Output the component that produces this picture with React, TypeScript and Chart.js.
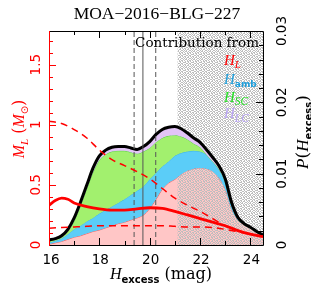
import React, { useEffect, useRef } from "react";
import { Chart, registerables } from "chart.js";

Chart.register(...registerables);

// ---------------- data ----------------
const TITLE = "MOA\u22122016\u2212BLG\u2212227";
const X_MIN = 16;
const X_MAX = 24.5;
const ML_MAX = 1.78;
const P_MAX = 0.03;

const H_GRID = [
  16, 16.25, 16.5, 16.75, 17, 17.25, 17.5, 17.75, 18, 18.25, 18.5, 18.75, 19, 19.25, 19.5, 19.75,
  20, 20.25, 20.5, 20.75, 21, 21.25, 21.5, 21.75, 22, 22.25, 22.5, 22.75, 23, 23.25, 23.5, 23.75,
  24, 24.25, 24.5,
];
// cumulative tops of the stacked probability areas
const P_LENS_TOP = [
  0.0001, 0.0003, 0.0005, 0.0008, 0.0011, 0.0013, 0.0016, 0.0019, 0.0021, 0.0024, 0.0027, 0.003,
  0.0032, 0.0035, 0.0038, 0.0042, 0.0051, 0.0064, 0.0078, 0.0087, 0.0092, 0.0099, 0.0104, 0.0107,
  0.0108, 0.0107, 0.0103, 0.0094, 0.0078, 0.005, 0.0035, 0.0029, 0.0024, 0.0018, 0.0014,
];
const P_AMB_TOP = [
  0.0003, 0.0006, 0.0009, 0.0015, 0.0022, 0.0027, 0.0033, 0.0038, 0.0044, 0.0049, 0.0054, 0.0059,
  0.0064, 0.007, 0.0076, 0.0082, 0.0092, 0.0101, 0.011, 0.0117, 0.0125, 0.0129, 0.0131, 0.0132,
  0.0131, 0.0127, 0.012, 0.011, 0.0087, 0.0055, 0.0036, 0.0029, 0.0024, 0.0018, 0.0014,
];
const P_SC_TOP = [
  0.0005, 0.0008, 0.0011, 0.0019, 0.0034, 0.0055, 0.0079, 0.0102, 0.0119, 0.0127, 0.0131, 0.0132,
  0.0132, 0.013, 0.0128, 0.0131, 0.0136, 0.0144, 0.015, 0.0153, 0.0154, 0.0152, 0.0148, 0.0142,
  0.0137, 0.0127, 0.0117, 0.0106, 0.0089, 0.0057, 0.0037, 0.0029, 0.0024, 0.0018, 0.0014,
];
const P_TOTAL = [
  0.0007, 0.0009, 0.0013, 0.0022, 0.0038, 0.006, 0.0084, 0.0108, 0.0125, 0.0133, 0.0137, 0.0138,
  0.0138, 0.0136, 0.0134, 0.0138, 0.0145, 0.0155, 0.0162, 0.0165, 0.0166, 0.0163, 0.0157, 0.015,
  0.0144, 0.0134, 0.0123, 0.0111, 0.0093, 0.006, 0.0039, 0.003, 0.0025, 0.0019, 0.0014,
];

// lens mass (left axis)
const ML_DASH_X = [16, 16.5, 17, 17.5, 18, 18.5, 19, 19.5, 20, 20.5, 21, 21.5, 22, 22.5, 23, 23.5, 24, 24.5];
const ML_DASH_HI = [1.03, 1.01, 0.96, 0.89, 0.79, 0.71, 0.66, 0.61, 0.55, 0.47, 0.39, 0.33, 0.28, 0.22, 0.16, 0.12, 0.09, 0.07];
const ML_DASH_LO = [0.14, 0.145, 0.15, 0.155, 0.16, 0.16, 0.16, 0.16, 0.16, 0.16, 0.155, 0.15, 0.15, 0.145, 0.13, 0.11, 0.09, 0.07];
const ML_SOLID_X = [16, 16.25, 16.5, 16.75, 17, 17.5, 18, 18.5, 19, 19.5, 20, 20.5, 21, 21.5, 22, 22.5, 23, 23.5, 24, 24.5];
const ML_SOLID = [0.33, 0.37, 0.39, 0.38, 0.35, 0.32, 0.3, 0.29, 0.29, 0.3, 0.31, 0.305, 0.28, 0.25, 0.22, 0.19, 0.16, 0.12, 0.09, 0.07];

const EXCLUDED_RANGE = [21.1, 24.5];
const DASHED_LIMITS = [19.38, 20.24];
const SOLID_LIMITS = [19.73];

const X_TICK_VALUES = [16, 18, 20, 22, 24];
const X_TICK_LABELS = ["16", "18", "20", "22", "24"];
const ML_TICK_VALUES = [0, 0.5, 1, 1.5];
const ML_TICK_LABELS = ["0", "0.5", "1", "1.5"];
const P_TICK_VALUES = [0, 0.01, 0.02, 0.03];
const P_TICK_LABELS = ["0", "0.01", "0.02", "0.03"];

// ---------------- styles ----------------
const RED = "#ff0000";
const PINK = "#ffc6c6";
const BLUE = "#5bcdf8";
const GREEN = "#a2f06e";
const LAVENDER = "#e2c4f6";
const SERIF = "'Liberation Serif', serif";
const WSERIF = "'DejaVu Serif', serif";
const SANS = "'DejaVu Sans', sans-serif";

type Seg = { t: string; font: string; dy?: number; dx?: number; color?: string };

function richWidth(ctx: CanvasRenderingContext2D, segs: Seg[]) {
  let w = 0;
  for (const s of segs) {
    ctx.font = s.font;
    w += ctx.measureText(s.t).width + (s.dx || 0);
  }
  return w;
}
function drawRich(ctx: CanvasRenderingContext2D, segs: Seg[], x: number, y: number, color: string) {
  let cx = x;
  for (const s of segs) {
    ctx.font = s.font;
    ctx.fillStyle = s.color || color;
    cx += s.dx || 0;
    ctx.fillText(s.t, cx, y + (s.dy || 0));
    cx += ctx.measureText(s.t).width;
  }
}
function drawRotRich(ctx: CanvasRenderingContext2D, segs: Seg[], bx: number, cy: number, color: string) {
  const w = richWidth(ctx, segs);
  ctx.save();
  ctx.translate(bx, cy);
  ctx.rotate(-Math.PI / 2);
  drawRich(ctx, segs, -w / 2, 0, color);
  ctx.restore();
}

// fine squiggly gray texture for the excluded region
const HATCH_ROWS = [
  "XX..X.X.",
  ".X.XX..X",
  "X.X..XX.",
  ".XX.X..X",
  "X..X.XX.",
  ".X.XX.X.",
  "XX..X..X",
  "..XX.XX.",
];
function makeHatch(): CanvasPattern | string {
  const c = document.createElement("canvas");
  c.width = 8;
  c.height = 8;
  const g = c.getContext("2d");
  if (!g) return "#dcdcdc";
  g.fillStyle = "#bebebe";
  HATCH_ROWS.forEach((row, y) => {
    for (let x = 0; x < row.length; x++) if (row[x] === "X") g.fillRect(x, y, 1, 1);
  });
  const ctx = document.createElement("canvas").getContext("2d");
  const p = ctx ? ctx.createPattern(c, "repeat") : null;
  return p || "#dcdcdc";
}

const decor = {
  id: "decor",
  afterDraw(chart: any) {
    const ctx: CanvasRenderingContext2D = chart.ctx;
    const { left, right, top, bottom } = chart.chartArea;
    const xs = chart.scales.x;
    const ym = chart.scales.yM;
    const yp = chart.scales.yP;
    ctx.save();
    ctx.lineWidth = 1;
    // x ticks (inward, top and bottom)
    ctx.strokeStyle = "#000";
    for (let v = 16; v <= 24; v++) {
      const px = Math.round(xs.getPixelForValue(v)) + 0.5;
      const len = v % 2 === 0 ? 7 : 4;
      ctx.beginPath();
      ctx.moveTo(px, bottom);
      ctx.lineTo(px, bottom - len);
      ctx.moveTo(px, top);
      ctx.lineTo(px, top + len);
      ctx.stroke();
    }
    // right ticks
    for (let i = 0; i <= 15; i++) {
      const py = Math.round(yp.getPixelForValue(i * 0.002)) + 0.5;
      const len = i % 5 === 0 ? 7 : 4;
      ctx.beginPath();
      ctx.moveTo(right, py);
      ctx.lineTo(right - len, py);
      ctx.stroke();
    }
    // left ticks (red)
    ctx.strokeStyle = RED;
    for (let i = 0; i <= 17; i++) {
      const py = Math.round(ym.getPixelForValue(i / 10)) + 0.5;
      const len = i % 5 === 0 ? 7 : 4;
      ctx.beginPath();
      ctx.moveTo(left, py);
      ctx.lineTo(left + len, py);
      ctx.stroke();
    }
    // frame
    ctx.strokeStyle = "#000";
    ctx.beginPath();
    ctx.moveTo(left, top + 0.5);
    ctx.lineTo(right + 0.5, top + 0.5);
    ctx.lineTo(right + 0.5, bottom + 0.5);
    ctx.lineTo(left, bottom + 0.5);
    ctx.stroke();
    ctx.strokeStyle = RED;
    ctx.beginPath();
    ctx.moveTo(left + 0.5, top);
    ctx.lineTo(left + 0.5, bottom + 1);
    ctx.stroke();

    ctx.textBaseline = "alphabetic";
    ctx.textAlign = "left";
    // title
    ctx.fillStyle = "#000";
    ctx.font = `17.5px ${SERIF}`;
    const tw = ctx.measureText(TITLE).width;
    ctx.fillText(TITLE, 157 - tw / 2, 18.5);

    // x tick labels
    ctx.font = `13.5px ${SANS}`;
    ctx.textAlign = "center";
    X_TICK_VALUES.forEach((v, i) => {
      ctx.fillText(X_TICK_LABELS[i], xs.getPixelForValue(v) + (i === 0 ? 2 : 1), 263.5);
    });
    // rotated y tick labels
    ctx.textBaseline = "middle";
    ML_TICK_VALUES.forEach((v, i) => {
      ctx.save();
      ctx.translate(36, ym.getPixelForValue(v));
      ctx.rotate(-Math.PI / 2);
      ctx.fillStyle = RED;
      ctx.fillText(ML_TICK_LABELS[i], 0, 0);
      ctx.restore();
    });
    P_TICK_VALUES.forEach((v, i) => {
      ctx.save();
      ctx.translate(282, yp.getPixelForValue(v));
      ctx.rotate(-Math.PI / 2);
      ctx.fillStyle = "#000";
      ctx.fillText(P_TICK_LABELS[i], 0, 0);
      ctx.restore();
    });
    ctx.textBaseline = "alphabetic";
    ctx.textAlign = "left";

    // x title
    drawRich(
      ctx,
      [
        { t: "H", font: `italic 16px ${SERIF}` },
        { t: "excess", font: `bold 10px ${SANS}`, dy: 4 },
        { t: " (mag)", font: `16px ${WSERIF}` },
      ],
      110,
      279,
      "#000"
    );
    // left title
    drawRotRich(
      ctx,
      [
        { t: "M", font: `italic 16px ${SERIF}` },
        { t: "L", font: `italic 11px ${SERIF}`, dy: 3.5 },
        { t: " (", font: `16px ${WSERIF}` },
        { t: "M", font: `italic 16px ${SERIF}` },
        { t: "\u2299", font: `10px ${SANS}`, dy: 3.5 },
        { t: ")", font: `16px ${WSERIF}` },
      ],
      24,
      129,
      RED
    );
    // right title
    drawRotRich(
      ctx,
      [
        { t: "P", font: `italic 17px ${SERIF}` },
        { t: "(", font: `17px ${WSERIF}` },
        { t: "H", font: `italic 17px ${SERIF}` },
        { t: "excess", font: `bold 10px ${SANS}`, dy: 3.5 },
        { t: ")", font: `17px ${WSERIF}` },
      ],
      308,
      132,
      "#000"
    );

    // legend
    ctx.fillStyle = "#000";
    ctx.font = `13.5px ${WSERIF}`;
    ctx.textAlign = "right";
    ctx.fillText("Contribution from", 259, 47);
    ctx.textAlign = "left";
    const lx = 224;
    drawRich(ctx, [
      { t: "H", font: `italic 15px ${SERIF}` },
      { t: "L", font: `italic 11px ${SERIF}`, dy: 2.5 },
    ], lx, 65, RED);
    drawRich(ctx, [
      { t: "H", font: `italic 15px ${SERIF}` },
      { t: "amb", font: `bold 9px ${SANS}`, dy: 3 },
    ], lx, 83.5, "#1e9fdc");
    drawRich(ctx, [
      { t: "H", font: `italic 15px ${SERIF}` },
      { t: "SC", font: `italic 11.5px ${SERIF}`, dy: 3.5 },
    ], lx, 101.5, "#22dd22");
    drawRich(ctx, [
      { t: "H", font: `italic 15px ${SERIF}` },
      { t: "LC", font: `italic 11.5px ${SERIF}`, dy: 3.5 },
    ], lx, 118, "#b9a4f5");
    ctx.restore();
  },
};

function pts(xs: number[], ys: number[]) {
  return xs.map((x, i) => ({ x, y: ys[i] }));
}

export default function App() {
  const ref = useRef<HTMLCanvasElement | null>(null);
  useEffect(() => {
    if (!ref.current) return;
    const hatch = makeHatch();
    const area = (data: number[], bg: string, border: string, fill: any, order: number, bw = 1) => ({
      data: pts(H_GRID, data),
      yAxisID: "yP",
      backgroundColor: bg,
      borderColor: border,
      borderWidth: bw,
      fill,
      order,
      pointRadius: 0,
      cubicInterpolationMode: "monotone" as const,
    });
    const vline = (x: number, dash: number[]) => ({
      data: [
        { x, y: 0 },
        { x, y: ML_MAX },
      ],
      yAxisID: "yM",
      borderColor: "#555",
      borderWidth: 1,
      borderDash: dash,
      fill: false,
      order: 10,
      pointRadius: 0,
    });
    const chart = new Chart(ref.current, {
      type: "line",
      data: {
        datasets: [
          area(P_LENS_TOP, PINK, "#ff5a5a", "origin", 20),
          area(P_AMB_TOP, BLUE, "#3cb4e6", "-1", 18),
          area(P_SC_TOP, GREEN, "#5ad24a", "-1", 17),
          area(P_TOTAL, LAVENDER, "#000", "-1", 16, 3),
          {
            data: [
              { x: EXCLUDED_RANGE[0], y: ML_MAX },
              { x: EXCLUDED_RANGE[1], y: ML_MAX },
            ],
            yAxisID: "yM",
            backgroundColor: hatch as any,
            borderWidth: 0,
            fill: "origin",
            order: 19,
            pointRadius: 0,
          },
          ...DASHED_LIMITS.map((x) => vline(x, [5, 3])),
          ...SOLID_LIMITS.map((x) => vline(x, [])),
          {
            data: pts(ML_DASH_X, ML_DASH_HI),
            yAxisID: "yM",
            borderColor: RED,
            borderWidth: 1.5,
            borderDash: [7, 5],
            fill: false,
            order: 5,
            pointRadius: 0,
            cubicInterpolationMode: "monotone" as const,
          },
          {
            data: pts(ML_DASH_X, ML_DASH_LO),
            yAxisID: "yM",
            borderColor: RED,
            borderWidth: 1.5,
            borderDash: [7, 5],
            fill: false,
            order: 5,
            pointRadius: 0,
            cubicInterpolationMode: "monotone" as const,
          },
          {
            data: pts(ML_SOLID_X, ML_SOLID),
            yAxisID: "yM",
            borderColor: RED,
            borderWidth: 2.8,
            fill: false,
            order: 4,
            pointRadius: 0,
            cubicInterpolationMode: "monotone" as const,
          },
        ] as any,
      },
      options: {
        animation: false,
        responsive: false,
        maintainAspectRatio: false,
        devicePixelRatio: 1,
        layout: { padding: { left: 49, top: 31, right: 48, bottom: 47 } },
        plugins: {
          legend: { display: false },
          tooltip: { enabled: false },
          title: { display: false },
        },
        scales: {
          x: { type: "linear", min: X_MIN, max: X_MAX, display: false },
          yM: { type: "linear", position: "left", min: 0, max: ML_MAX, display: false },
          yP: { type: "linear", position: "right", min: 0, max: P_MAX, display: false },
        },
      },
      plugins: [decor],
    });
    return () => chart.destroy();
  }, []);
  return (
    <div style={{ position: "absolute", left: 0, top: 0, width: 311, height: 292, background: "#fff" }}>
      <canvas ref={ref} width={311} height={292} style={{ width: 311, height: 292, display: "block" }} />
    </div>
  );
}
